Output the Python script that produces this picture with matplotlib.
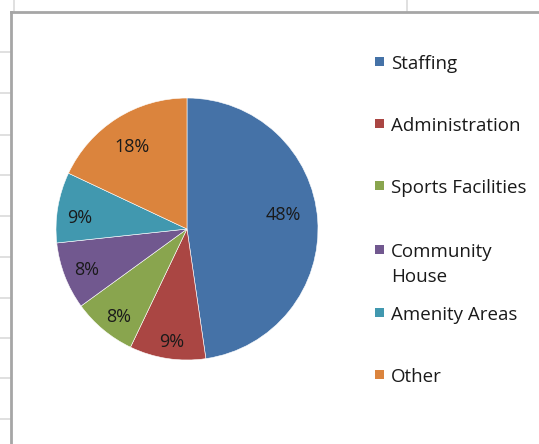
import matplotlib
matplotlib.use("Agg")
import matplotlib.pyplot as plt
from matplotlib.patches import Rectangle
from matplotlib.lines import Line2D
import numpy as np

categories = ["Staffing", "Administration", "Sports Facilities", "Community\nHouse", "Amenity Areas", "Other"]
values = [47.7, 9.4, 7.9, 8.3, 8.7, 18.0]
colors = ["#4572A7", "#AA4643", "#89A54E", "#71588F", "#4198AF", "#DB843D"]
# label placement (radial fraction, angular nudge in degrees)
label_dist = [0.74, 0.87, 0.85, 0.825, 0.82, 0.75]
label_nudge = [4.0, 1.0, 2.0, 1.2, 3.6, 1.5]

W, H = 539, 444
fig = plt.figure(figsize=(W / 100, H / 100), dpi=100)
fig.patch.set_facecolor("white")
FONT = "Open Sans"

def fx(px):
    return px / W

def fy(py):
    return 1 - py / H

# spreadsheet grid outside the chart frame
for y in [52, 93, 135, 175, 216, 257, 298, 338, 378, 419]:
    fig.add_artist(Line2D([0, fx(10)], [fy(y), fy(y)], color="#DADADA", lw=1.2))
for x in [14, 407]:
    fig.add_artist(Line2D([fx(x), fx(x)], [fy(0), fy(12)], color="#DADADA", lw=1.2))
# chart frame
fig.add_artist(Line2D([fx(11), fx(11)], [fy(12), 0], color="#A6A6A6", lw=2))
fig.add_artist(Line2D([fx(11), 1], [fy(12), fy(12)], color="#A6A6A6", lw=2))

# pie
cx, cy, r = 187, 229, 131
ax = fig.add_axes([fx(cx - r), fy(cy + r), 2 * r / W, 2 * r / H])
wedges, texts, autotexts = ax.pie(
    values, colors=colors, startangle=90, counterclock=False,
    autopct=lambda p: f"{p:.0f}%", pctdistance=0.8,
    wedgeprops=dict(edgecolor="white", linewidth=0.4),
    textprops=dict(fontsize=13, color="#1a1a1a", family=FONT),
)
for w, t, d, n in zip(wedges, autotexts, label_dist, label_nudge):
    ang = np.deg2rad((w.theta1 + w.theta2) / 2 + n)
    t.set_position((d * np.cos(ang), d * np.sin(ang)))
ax.set_xlim(-1, 1)
ax.set_ylim(-1, 1)
ax.set_aspect("equal")
ax.axis("off")

# legend
legend_base = [69, 131, 193, 257, 320, 382]
line_gap = 25
for cat, col, b in zip(categories, colors, legend_base):
    fig.add_artist(Rectangle((fx(375), fy(b - 3)), 9 / W, 9 / H, transform=fig.transFigure,
                             facecolor=col, edgecolor="none"))
    for i, line in enumerate(cat.split("\n")):
        fig.text(fx(391), fy(b + i * line_gap), line, fontsize=13.5, family=FONT,
                 color="#1a1a1a", va="baseline", ha="left")

fig.savefig("out.png", dpi=100)
